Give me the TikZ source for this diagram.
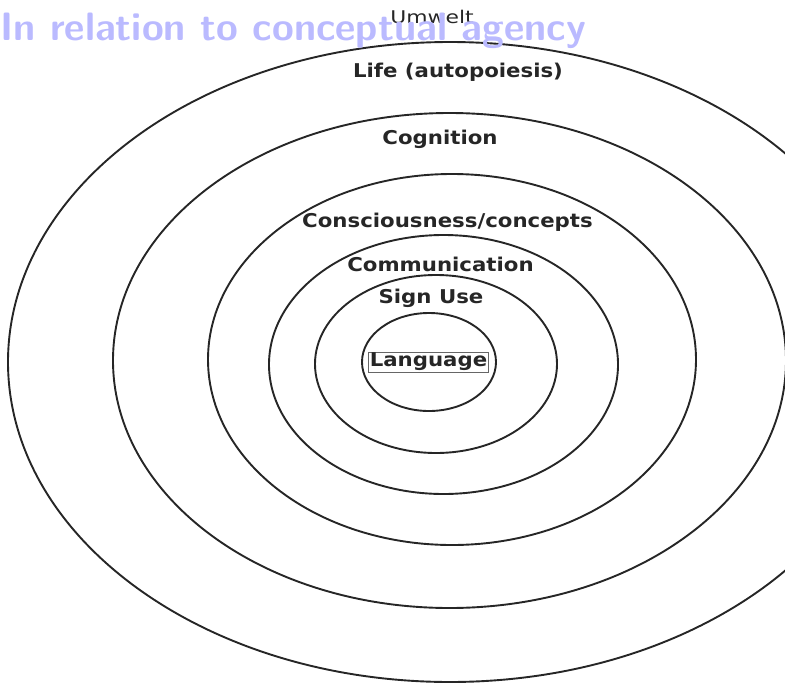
\documentclass[tikz,border=0pt]{standalone}
\usepackage{fontspec}
\newfontfamily\ringfont[FakeStretch=1.12]{DejaVu Sans Bold}
\newfontfamily\outerfont[FakeStretch=1.25]{DejaVu Sans}
\definecolor{titleblue}{RGB}{186,186,255}

\begin{document}
\begin{tikzpicture}[x=1pt,y=-1pt,
  ring/.style={line width=1.9pt,draw=black!85},
  lbl/.style={font=\ringfont\fontsize{19}{22}\selectfont,text=black!85,inner sep=0pt}]
\clip (0,0) rectangle (785,683);
% nested rings, outermost first
\draw[ring] (450,362) ellipse [x radius=442pt,y radius=320pt];
\draw[ring] (449.5,360.5) ellipse [x radius=336.5pt,y radius=247.5pt];
\draw[ring] (452,359.5) ellipse [x radius=244pt,y radius=185.5pt];
\draw[ring] (443.5,364.5) ellipse [x radius=174.5pt,y radius=129.5pt];
\draw[ring] (436,364) ellipse [x radius=121pt,y radius=89pt];
\draw[ring] (429,362) ellipse [x radius=67pt,y radius=49pt];
% labels
\node[lbl,font=\outerfont\fontsize{17.5}{20}\selectfont] (umwelt) at (432,17) {Umwelt};
\node[lbl] (life) at (458,72) {Life (autopoiesis)};
\node[lbl] (cognition) at (440,139) {Cognition};
\node[lbl] (conscious) at (447.5,222) {Consciousness/concepts};
\node[lbl] (communic) at (440.5,264) {Communication};
\node[lbl] (signuse) at (431,298) {Sign Use};
\node[lbl,draw=black!60,line width=0.8pt,inner xsep=1pt,inner ysep=1pt] (language) at (428.5,362) {Language};
% title over the top
\node[anchor=west,inner sep=0pt,text=titleblue,
  font=\sffamily\bfseries\fontsize{39.6}{44}\selectfont] (title) at (0,31) {In relation to conceptual agency};
\end{tikzpicture}
\end{document}
